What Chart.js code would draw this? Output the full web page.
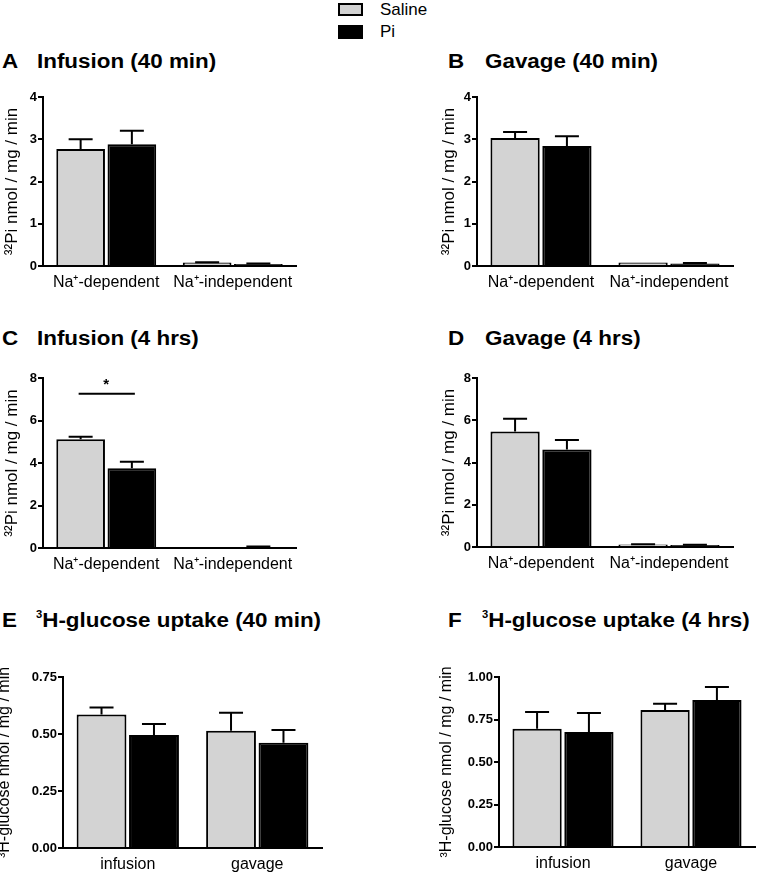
<!DOCTYPE html>
<html>
<head>
<meta charset="utf-8">
<script src="https://cdn.jsdelivr.net/npm/chart.js@4.4.1/dist/chart.umd.min.js"></script>
<style>
  body { margin: 0; background: #fff; width: 760px; height: 873px; position: relative; overflow: hidden;
         font-family: Arial, "Liberation Sans", sans-serif; color: #000; }
  .panel { position: absolute; }
  .ttl { position: absolute; font-weight: bold; font-size: 20px; line-height: 20px; white-space: nowrap;
         transform: scaleX(1.12); transform-origin: left top; }
  .ttl sup { font-size: 10px; vertical-align: 9px; line-height: 0; }
  .leg-box { position: absolute; left: 338px; width: 25px; box-sizing: border-box; }
  .leg-txt { position: absolute; left: 380px; font-size: 17px; line-height: 17px; }
</style>
</head>
<body>

<!-- legend -->
<div class="leg-box" style="top:3px;height:13px;background:#d3d3d3;border:2px solid #000;"></div>
<div class="leg-txt" style="top:1px;">Saline</div>
<div class="leg-box" style="top:25px;height:14px;background:#000;"></div>
<div class="leg-txt" style="top:23px;">Pi</div>

<!-- panel titles -->
<div class="ttl" style="left:2px;top:51px;">A</div>
<div class="ttl" style="left:37px;top:51px;">Infusion (40 min)</div>
<div class="ttl" style="left:448px;top:51px;">B</div>
<div class="ttl" style="left:485px;top:51px;">Gavage (40 min)</div>
<div class="ttl" style="left:2px;top:328px;">C</div>
<div class="ttl" style="left:37px;top:328px;">Infusion (4 hrs)</div>
<div class="ttl" style="left:448px;top:328px;">D</div>
<div class="ttl" style="left:485px;top:328px;">Gavage (4 hrs)</div>
<div class="ttl" style="left:2px;top:610px;">E</div>
<div class="ttl" style="left:36px;top:610px;"><sup>3</sup>H-glucose uptake (40 min)</div>
<div class="ttl" style="left:448px;top:610px;">F</div>
<div class="ttl" style="left:482px;top:610px;"><sup>3</sup>H-glucose uptake (4 hrs)</div>

<div class="panel" id="pA"><canvas id="cA"></canvas></div>
<div class="panel" id="pB"><canvas id="cB"></canvas></div>
<div class="panel" id="pC"><canvas id="cC"></canvas></div>
<div class="panel" id="pD"><canvas id="cD"></canvas></div>
<div class="panel" id="pE"><canvas id="cE"></canvas></div>
<div class="panel" id="pF"><canvas id="cF"></canvas></div>

<script>
// categories
const phosphateLabels = ['Na\u207A-dependent', 'Na\u207A-independent'];
const glucoseLabels = ['infusion', 'gavage'];
const seriesNames = ['Saline', 'Pi'];

// A: infusion 40 min (32Pi uptake)
const infusion40Saline = [2.77, 0.08];
const infusion40SalineErr = [0.23, 0.01];
const infusion40Pi = [2.88, 0.05];
const infusion40PiErr = [0.32, 0.01];

// B: gavage 40 min
const gavage40Saline = [3.03, 0.08];
const gavage40SalineErr = [0.14, 0.0];
const gavage40Pi = [2.84, 0.06];
const gavage40PiErr = [0.23, 0.01];

// C: infusion 4 hrs
const infusion4hSaline = [5.12, 0.05];
const infusion4hSalineErr = [0.12, 0.0];
const infusion4hPi = [3.75, 0.05];
const infusion4hPiErr = [0.31, 0.02];

// D: gavage 4 hrs
const gavage4hSaline = [5.47, 0.12];
const gavage4hSalineErr = [0.60, 0.01];
const gavage4hPi = [4.61, 0.10];
const gavage4hPiErr = [0.45, 0.01];

// E: 3H-glucose 40 min
const glucose40Saline = [0.585, 0.514];
const glucose40SalineErr = [0.031, 0.079];
const glucose40Pi = [0.496, 0.462];
const glucose40PiErr = [0.048, 0.056];

// F: 3H-glucose 4 hrs
const glucose4hSaline = [0.696, 0.806];
const glucose4hSalineErr = [0.098, 0.037];
const glucose4hPi = [0.676, 0.865];
const glucose4hPiErr = [0.112, 0.076];

// y tick labels
const ticks40min = [0, 1, 2, 3, 4];
const ticks4hrs = [0, 2, 4, 6, 8];
const ticksGlucose40 = [0, 0.25, 0.5, 0.75];
const ticksGlucose4h = [0, 0.25, 0.5, 0.75, 1];

// significance bar in C (level in y units)
const sigLevelC = 7.26;

const colorSaline = '#d3d3d3';
const colorPi = '#000000';

Chart.defaults.font.family = 'Arial, "Liberation Sans", sans-serif';
Chart.defaults.color = '#000';

// draws the upward error bars from each dataset's errors array
const errorBars = {
  id: 'errorBars',
  afterDatasetsDraw(chart) {
    const c = chart.ctx;
    const y = chart.scales.y;
    c.save();
    c.strokeStyle = '#000';
    c.lineWidth = 2;
    chart.data.datasets.forEach((ds, i) => {
      chart.getDatasetMeta(i).data.forEach((bar, j) => {
        const err = ds.errors[j];
        if (!err) return;
        const top = y.getPixelForValue(ds.data[j] + err);
        c.beginPath();
        c.moveTo(bar.x, bar.y);
        c.lineTo(bar.x, top);
        c.moveTo(bar.x - 12, top);
        c.lineTo(bar.x + 12, top);
        c.stroke();
      });
    });
    c.restore();
  },
};

// the "*" bracket between saline and Pi in panel C
const sigBar = {
  id: 'sigBar',
  afterDatasetsDraw(chart) {
    const c = chart.ctx;
    const b0 = chart.getDatasetMeta(0).data[0];
    const b1 = chart.getDatasetMeta(1).data[0];
    const yy = chart.scales.y.getPixelForValue(sigLevelC);
    c.save();
    c.strokeStyle = '#000';
    c.lineWidth = 2;
    c.beginPath();
    c.moveTo(b0.x - 2, yy);
    c.lineTo(b1.x + 3, yy);
    c.stroke();
    c.fillStyle = '#000';
    c.font = 'bold 15px Arial, "Liberation Sans", sans-serif';
    c.textAlign = 'center';
    c.textBaseline = 'bottom';
    c.fillText('*', (b0.x + b1.x) / 2, yy - 1);
    c.restore();
  },
};

const makePanel = (p) => {
  const box = document.getElementById(p.box);
  box.style.left = p.left + 'px';
  box.style.top = p.top + 'px';
  const canvas = document.getElementById(p.canvas);
  canvas.width = p.width;
  canvas.height = p.height;

  const makeSet = (name, data, errors, color) => ({
    label: name,
    data: data,
    errors: errors,
    backgroundColor: color,
    borderColor: '#000',
    borderWidth: 2,
    categoryPercentage: 0.81,
    barPercentage: 0.95,
  });

  new Chart(canvas, {
    type: 'bar',
    data: {
      labels: p.labels,
      datasets: [
        makeSet(seriesNames[0], p.saline, p.salineErr, colorSaline),
        makeSet(seriesNames[1], p.pi, p.piErr, colorPi),
      ],
    },
    options: {
      responsive: false,
      animation: false,
      devicePixelRatio: 1,
      layout: { padding: { top: p.padTop, right: p.padRight, left: 0, bottom: 0 } },
      scales: {
        x: {
          offset: true,
          afterFit: (s) => { s.height = p.xHeight; },
          grid: { display: false, drawTicks: false },
          border: { color: '#000', width: 2 },
          ticks: { font: { size: 16 }, color: '#000', padding: 7, maxRotation: 0, autoSkip: false },
        },
        y: {
          min: 0,
          max: p.ticks[p.ticks.length - 1],
          afterBuildTicks: (s) => { s.ticks = p.ticks.map((v) => ({ value: v })); },
          afterFit: (s) => { s.width = p.yWidth; },
          grid: { drawOnChartArea: false, tickLength: 5, color: '#000', lineWidth: 2 },
          border: { color: '#000', width: 2 },
          ticks: {
            font: { size: 13, weight: 'bold' },
            color: '#000',
            padding: 1,
            callback: (v) => v.toFixed(p.decimals),
          },
          title: {
            display: true,
            text: p.yTitle,
            font: { size: p.yTitleSize },
            color: '#000',
            padding: { top: 2, bottom: 0 },
          },
        },
      },
      plugins: {
        legend: { display: false },
        tooltip: { enabled: false },
      },
    },
    plugins: p.sig ? [errorBars, sigBar] : [errorBars],
  });
};

const piTitle = '\u00B3\u00B2Pi nmol / mg / min';
const glucoseTitle = '\u00B3H-glucose nmol / mg / min';

makePanel({ box: 'pA', canvas: 'cA', left: 0, top: 80, width: 380, height: 215,
  yWidth: 43, padTop: 17, padRight: 84, xHeight: 29,
  labels: phosphateLabels, ticks: ticks40min, decimals: 0, yTitle: piTitle, yTitleSize: 17,
  saline: infusion40Saline, salineErr: infusion40SalineErr, pi: infusion40Pi, piErr: infusion40PiErr });

makePanel({ box: 'pB', canvas: 'cB', left: 437, top: 80, width: 323, height: 215,
  yWidth: 40, padTop: 17, padRight: 27, xHeight: 29,
  labels: phosphateLabels, ticks: ticks40min, decimals: 0, yTitle: piTitle, yTitleSize: 17,
  saline: gavage40Saline, salineErr: gavage40SalineErr, pi: gavage40Pi, piErr: gavage40PiErr });

makePanel({ box: 'pC', canvas: 'cC', left: 0, top: 361, width: 380, height: 216,
  yWidth: 43, padTop: 17, padRight: 84, xHeight: 29, sig: true,
  labels: phosphateLabels, ticks: ticks4hrs, decimals: 0, yTitle: piTitle, yTitleSize: 17,
  saline: infusion4hSaline, salineErr: infusion4hSalineErr, pi: infusion4hPi, piErr: infusion4hPiErr });

makePanel({ box: 'pD', canvas: 'cD', left: 437, top: 361, width: 323, height: 215,
  yWidth: 40, padTop: 17, padRight: 27, xHeight: 29,
  labels: phosphateLabels, ticks: ticks4hrs, decimals: 0, yTitle: piTitle, yTitleSize: 17,
  saline: gavage4hSaline, salineErr: gavage4hSalineErr, pi: gavage4hPi, piErr: gavage4hPiErr });

makePanel({ box: 'pE', canvas: 'cE', left: -7, top: 660, width: 387, height: 213,
  yWidth: 70, padTop: 17, padRight: 58, xHeight: 25,
  labels: glucoseLabels, ticks: ticksGlucose40, decimals: 2, yTitle: glucoseTitle, yTitleSize: 16,
  saline: glucose40Saline, salineErr: glucose40SalineErr, pi: glucose40Pi, piErr: glucose40PiErr });

makePanel({ box: 'pF', canvas: 'cF', left: 435, top: 660, width: 325, height: 213,
  yWidth: 64, padTop: 17, padRight: 5, xHeight: 26,
  labels: glucoseLabels, ticks: ticksGlucose4h, decimals: 2, yTitle: glucoseTitle, yTitleSize: 16,
  saline: glucose4hSaline, salineErr: glucose4hSalineErr, pi: glucose4hPi, piErr: glucose4hPiErr });
</script>
</body>
</html>
